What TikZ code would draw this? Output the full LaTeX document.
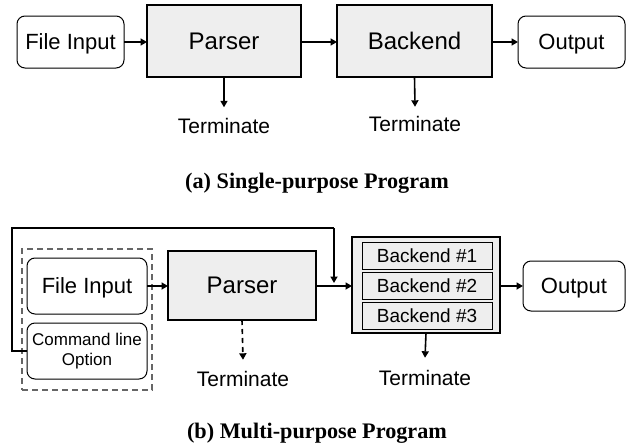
\documentclass[tikz,border=0pt]{standalone}
\usepackage{fontspec}
\setmainfont{Liberation Sans}
\newfontfamily\capfont{Liberation Serif}
\usetikzlibrary{arrows.meta}
\definecolor{boxgray}{HTML}{EEEEEE}
\definecolor{dashgray}{HTML}{666666}
\tikzset{
  arr/.style={line width=1.6pt, -{Triangle[length=6.5pt,width=7pt]}},
  roundbox/.style={draw, line width=1pt, rounded corners=8pt, inner sep=0pt, outer sep=0pt, fill=white},
  mainbox/.style={draw, line width=2pt, fill=boxgray, inner sep=0pt, outer sep=0pt, text depth=0pt},
  subbox/.style={draw, line width=1pt, fill=boxgray, inner sep=0pt, outer sep=0pt, minimum width=130pt, minimum height=27pt, text depth=0pt, font=\fontsize{19}{19}\selectfont},
  termtext/.style={inner xsep=0pt, outer sep=0pt, font=\fontsize{21}{21}\selectfont},
  captext/.style={font=\capfont\bfseries\fontsize{22.2}{22.2}\selectfont, inner sep=0pt},
}
\begin{document}
\begin{tikzpicture}[x=1pt,y=-1pt]
\useasboundingbox (0,0) rectangle (639,447);
% ---------------- (a) ----------------
\node[roundbox, text depth=0pt, minimum width=107pt, minimum height=52pt, font=\fontsize{22}{22}\selectfont] (fin1) at (70.5,42) {File Input};
\node[mainbox, minimum width=154pt, minimum height=72pt, font=\fontsize{24}{24}\selectfont] (parser1) at (224,41) {Parser};
\node[mainbox, minimum width=155pt, minimum height=72pt, font=\fontsize{24}{24}\selectfont] (backend1) at (414.5,41) {Backend};
\node[roundbox, text depth=0pt, minimum width=107pt, minimum height=52pt, font=\fontsize{22}{22}\selectfont] (out1) at (571.5,42) {Output};
\node[termtext, inner ysep=11pt] (term1) at (224,126) {Terminate};
\node[termtext, inner ysep=9.5pt] (term2) at (415,124) {Terminate};
\draw[arr] (fin1.east) -- (fin1.east -| parser1.west);
\draw[arr] (parser1.east |- fin1.east) -- (backend1.west |- fin1.east);
\draw[arr] (backend1.east |- out1.west) -- (out1.west);
\draw[arr] (parser1.south) -- (term1.north);
\draw[arr] (backend1.south) -- (term2.north);
\node[captext] (capa) at (317,183) {(a) Single-purpose Program};
% ---------------- (b) ----------------
\node[draw=dashgray, line width=1.5pt, dash pattern=on 6pt off 4pt, minimum width=130pt, minimum height=141pt, inner sep=0pt] (grp) at (87,319.5) {};
\node[roundbox, text depth=0pt, minimum width=120pt, minimum height=56pt, font=\fontsize{22}{22}\selectfont] (fin2) at (87,286) {File Input};
\node[roundbox, minimum width=120pt, minimum height=56pt, align=center, font=\fontsize{17}{20}\selectfont] (cmd) at (87,351) {Command line\\Option};
\node[mainbox, minimum width=148pt, minimum height=69pt, font=\fontsize{24}{24}\selectfont] (parser2) at (242,285.5) {Parser};
\node[mainbox, minimum width=148pt, minimum height=96pt] (cont) at (426,285) {};
\node[subbox] (b1) at (427,256) {Backend \#1};
\node[subbox] (b2) at (427,286) {Backend \#2};
\node[subbox] (b3) at (427,316) {Backend \#3};
\node[roundbox, text depth=0pt, minimum width=102pt, minimum height=50pt, font=\fontsize{22}{22}\selectfont] (out2) at (574,286) {Output};
\node[termtext, inner ysep=11.5pt] (term3) at (243,379) {Terminate};
\node[termtext, inner ysep=12.5pt] (term4) at (425,378) {Terminate};
\coordinate (fbcorner) at (12,228);
\coordinate (fbtop) at (334,228);
\coordinate (fbend) at (334,283);
\draw[arr] (fin2.east) -- (fin2.east -| parser2.west);
\draw[arr] (parser2.east |- fin2.east) -- (cont.west |- fin2.east);
\draw[arr] (cont.east |- out2.west) -- (out2.west);
\draw[arr, dash pattern=on 5pt off 4pt] (parser2.south) -- (term3.north);
\draw[arr] (cont.south) -- (term4.north);
\draw[line width=1.6pt] (cmd.west) -| (fbcorner) -- (fbtop);
\draw[arr] (fbtop) -- (fbend);
\node[captext] (capb) at (317,433) {(b) Multi-purpose Program};
\end{tikzpicture}
\end{document}
